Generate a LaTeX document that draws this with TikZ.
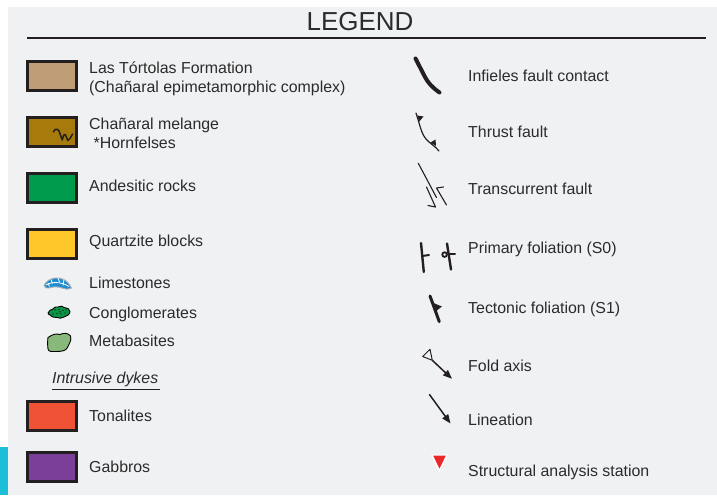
\documentclass[tikz,border=0pt]{standalone}
\usepackage{fontspec}
\setmainfont{Liberation Sans}
\usetikzlibrary{arrows.meta}
\definecolor{bg}{HTML}{F0F1F3}
\definecolor{cyanbar}{HTML}{1DBFD8}
\definecolor{ink}{HTML}{231F20}
\definecolor{txt}{HTML}{2B2B2B}
\definecolor{tan}{HTML}{BF9E77}
\definecolor{melange}{HTML}{A67B0C}
\definecolor{andes}{HTML}{009B4C}
\definecolor{quartz}{HTML}{FFC729}
\definecolor{tonal}{HTML}{F05235}
\definecolor{gabbro}{HTML}{7A3F98}
\definecolor{limeblue}{HTML}{1F8DD0}
\definecolor{congl}{HTML}{0A9447}
\definecolor{metab}{HTML}{88B97A}
\definecolor{station}{HTML}{E8282A}
\begin{document}
\begin{tikzpicture}[x=1pt,y=-1pt,
  lbl/.style={anchor=base west, inner sep=0pt, text=txt, font=\fontsize{15.9}{19}\selectfont},
  box/.style={draw=ink, line width=3pt, minimum width=49pt, minimum height=29pt, inner sep=0pt},
  sym/.style={draw=ink, line cap=round, line join=round}]
\useasboundingbox (0,0) rectangle (717,495);
\fill[white] (0,0) rectangle (717,495);
\fill[bg] (8,7) rectangle (717,495);
\fill[cyanbar] (0,447) rectangle (8,495);

% title
\node[anchor=base, inner sep=0pt, text=txt, font=\fontsize{26}{30}\selectfont] (title) at (360,30.7) {LEGEND};
\coordinate (rl) at (27,38);
\coordinate (rr) at (706,38);
\draw[ink, line width=1.2pt] (rl) -- (rr);

% left column boxes
\node[box, fill=tan] (b1) at (52,76) {};
\node[box, fill=melange] (b2) at (52,132) {};
\node[box, fill=andes] (b3) at (52,188) {};
\node[box, fill=quartz] (b4) at (52,243.5) {};
\node[box, fill=tonal] (b5) at (52,415.5) {};
\node[box, fill=gabbro] (b6) at (52,466.5) {};

% squiggle in melange box
\draw[ink, line width=1.5pt, line cap=round, line join=round] (53.5,132) .. controls (54.5,129) and (57,128) .. (59,131)
  -- (62.3,140) .. controls (63,136) and (64.5,133) .. (65.5,135) -- (67.8,140.5)
  .. controls (69.5,139.5) and (71.5,137) .. (72.5,134);

\node[lbl, align=left] (t1) at (89,92.3) {Las Tórtolas Formation\\(Chañaral epimetamorphic complex)};
\node[lbl, align=left] (t2) at (89,148) {Chañaral melange\\ \ *Hornfelses};
\node[lbl] (t3) at (89,191.7) {Andesitic rocks};
\node[lbl] (t4) at (89,246.7) {Quartzite blocks};
\node[lbl] (t5) at (89,288.3) {Limestones};
\node[lbl] (t6) at (89,318.3) {Conglomerates};
\node[lbl] (t7) at (89,346) {Metabasites};
\node[lbl, font=\fontsize{15.9}{19}\selectfont\itshape] (t8) at (52,383) {Intrusive dykes};
\coordinate (ul) at (52,389.5);
\coordinate (ur) at (160,389.5);
\draw[ink, line width=1pt] (ul) -- (ur);
\node[lbl] (t9) at (89,421.7) {Tonalites};
\node[lbl] (t10) at (89,472) {Gabbros};

% limestone icon
\draw[fill=limeblue, draw=gray!60, line width=0.9pt, line join=round]
  (44,285.5) .. controls (46.5,281) and (50,278.5) .. (55,278) .. controls (61,277.5) and (67,279) .. (71.5,288)
  .. controls (68,289.5) and (65,289.5) .. (62,288) .. controls (58,286.5) and (53,286.5) .. (49,288)
  .. controls (47,288.8) and (45,288) .. (44,285.5) -- cycle;
\draw[white, line width=0.8pt] (46,285) .. controls (52,281.5) and (61,281.5) .. (69,286.5);
\draw[white, line width=0.8pt] (51,279.5) -- (52.5,283.5) (58,278) -- (59.5,282) (64,279.5) -- (63,285.5) (48,283) -- (49.5,286.5);

% conglomerate icon
\draw[fill=congl, draw=black, line width=0.9pt, line join=round]
  (48,313) .. controls (49,310.5) and (51,309.5) .. (53,309) .. controls (54,307) and (56,306.5) .. (58,307)
  .. controls (60,305.5) and (63,306) .. (64,307.5) .. controls (67,307.5) and (70,309) .. (70,311.5)
  .. controls (70,314) and (67,316.5) .. (64,317) .. controls (62,318.5) and (59,318.5) .. (57,317.5)
  .. controls (54,318) and (51,316.5) .. (50,315) .. controls (49,314.5) and (48,314) .. (48,313) -- cycle;
\foreach \p in {(55,310),(59,309.5),(63,310.5),(57,313.5),(61,314),(65,313),(53,314),(60,311.8),(66,310)}
  \fill[black] \p circle (0.7pt);

% metabasite icon
\draw[fill=metab, draw=black, line width=0.9pt, line join=round]
  (48,337.5) .. controls (52,335) and (55,333) .. (60,334.5) .. controls (63,333) and (68,332.5) .. (70.5,336)
  .. controls (72,340) and (69,344) .. (67.5,347.5) .. controls (66,351) and (61,351.5) .. (56,351.5)
  .. controls (52,351.5) and (48.5,352) .. (48,349) .. controls (47.5,345) and (47.5,341) .. (48,337.5) -- cycle;

% right column texts
\node[lbl] (r1) at (468,81.7) {Infieles fault contact};
\node[lbl] (r2) at (468,137) {Thrust fault};
\node[lbl] (r3) at (468,194) {Transcurrent fault};
\node[lbl] (r4) at (468,253) {Primary foliation (S0)};
\node[lbl] (r5) at (468,313.3) {Tectonic foliation (S1)};
\node[lbl] (r6) at (468,371.7) {Fold axis};
\node[lbl] (r7) at (468,425.7) {Lineation};
\node[lbl] (r8) at (468,476) {Structural analysis station};

% infieles fault contact
\draw[sym, line width=4pt] (415.5,58.5) -- (425,77) .. controls (428,83) and (433,88) .. (439.5,92.5);

% thrust fault
\draw[sym, line width=1.2pt] (416,113) .. controls (420,125) and (421,133) .. (426,139) .. controls (430,143.5) and (435,146) .. (439,151);
\fill[ink] (417.3,115.5) -- (419.3,121.5) -- (423.5,116.5) -- cycle;
\fill[ink] (430.5,142.5) -- (436,146) -- (435.5,139.5) -- cycle;

% transcurrent fault
\draw[sym, line width=1.1pt] (418.3,163.3) -- (436.5,197.5);
\draw[sym, line width=1.1pt] (426.5,187) -- (435.5,207) -- (428,205.5);
\draw[sym, line width=1.1pt] (446.5,205) -- (436.5,188) -- (443.5,187);

% primary foliation
\draw[sym, line width=2.4pt] (421,243) -- (423.8,272);
\draw[sym, line width=2pt] (422.5,256) -- (429,255);
\draw[sym, line width=2.4pt] (447,243.5) -- (451,269.5);
\draw[ink, line width=1.8pt] (444.6,254.6) circle (2.3pt);
\draw[sym, line width=2pt] (449.5,254) -- (455,254);

% tectonic foliation
\draw[sym, line width=3pt] (430,296) -- (439.3,321.7);
\fill[ink] (433.5,303) -- (436.3,311) -- (441.8,306.5) -- cycle;

% fold axis
\draw[sym, line width=1pt] (422.7,356.5) -- (430,349.3) -- (432.3,360.3) -- cycle;
\coordinate (fa1) at (432.3,360.3);
\coordinate (fa2) at (452,378.8);
\draw[ink, line width=1.5pt, -{Triangle[length=9pt,width=7pt]}] (fa1) -- (fa2);

% lineation
\coordinate (li1) at (429.3,394.3);
\coordinate (li2) at (450.5,423.5);
\draw[ink, line width=1.5pt, -{Triangle[length=9pt,width=7pt]}] (li1) -- (li2);

% structural analysis station
\draw[fill=station, draw=white, line width=1.3pt, line join=miter] (432,455) -- (447,455) -- (439.5,470.5) -- cycle;
\end{tikzpicture}
\end{document}
